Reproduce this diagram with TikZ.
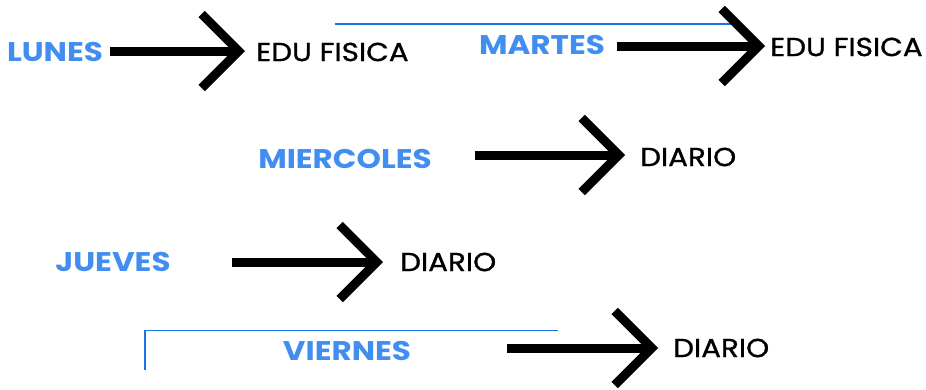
\documentclass[tikz,border=0pt]{standalone}
\usepackage{fontspec}
\setmainfont{Poppins}
\newfontfamily\diafont{Poppins}[FakeStretch=1.15]
\newfontfamily\materiafont{Poppins}[FakeStretch=1.13, FakeBold=1]
\usetikzlibrary{arrows.meta}
\definecolor{diaazul}{RGB}{66,142,240}
\definecolor{lineaazul}{RGB}{26,115,232}
\begin{document}
\begin{tikzpicture}[x=1pt,y=-1pt,
  dia/.style={text=diaazul, font=\diafont\fontsize{27}{27}\selectfont\bfseries, inner sep=0pt},
  materia/.style={font=\materiafont\fontsize{26}{26}\selectfont, anchor=west, inner sep=0pt},
  flecha/.style={line width=9pt, -{Straight Barb[length=37pt, width=74pt, sharp]}},
  linea/.style={lineaazul, line width=1.2pt}]
\useasboundingbox (0,0) rectangle (926,389);

% thin blue lines
\coordinate (m1) at (335,24);
\coordinate (m2) at (738,24);
\draw[linea] (m1) -- (m2);
\coordinate (v1) at (145,370);
\coordinate (v2) at (145,330.5);
\coordinate (v3) at (558,330.5);
\draw[linea] (v1) -- (v2) -- (v3);

% days
\node[dia] (lun) at (55,52) {LUNES};
\node[dia] (mar) at (542,45) {MARTES};
\node[dia] (mie) at (345,159) {MIERCOLES};
\node[dia] (jue) at (113,262) {JUEVES};
\node[dia] (vie) at (347,351) {VIERNES};

% subjects
\node[materia] (edu1) at (256,52) {EDU FISICA};
\node[materia] (edu2) at (770,47) {EDU FISICA};
\node[materia] (diario1) at (640,157) {DIARIO};
\node[materia] (diario2) at (400,262) {DIARIO};
\node[materia] (diario3) at (673,348) {DIARIO};

% arrows
\coordinate (s1) at (110,51);
\coordinate (s2) at (617,46);
\coordinate (s3) at (475,155);
\coordinate (s4) at (232,262);
\coordinate (s5) at (507,348);
\draw[flecha, shorten >=11pt] (s1) -- (s1 -| edu1.west);
\draw[flecha, shorten >=5pt] (s2) -- (s2 -| edu2.west);
\draw[flecha, shorten >=15pt] (s3) -- (s3 -| diario1.west);
\draw[flecha, shorten >=17pt] (s4) -- (s4 -| diario2.west);
\draw[flecha, shorten >=15pt] (s5) -- (s5 -| diario3.west);
\end{tikzpicture}
\end{document}
